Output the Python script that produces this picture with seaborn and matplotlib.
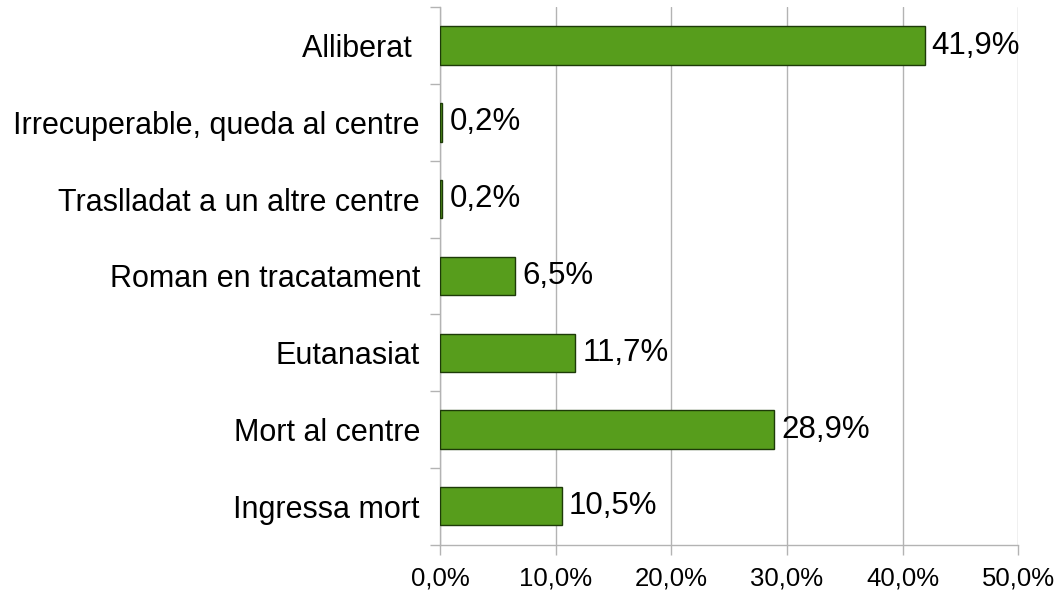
import matplotlib
matplotlib.use("Agg")
import matplotlib.pyplot as plt
import seaborn as sns
import pandas as pd

# Data (top to bottom)
categories = ["Alliberat ", "Irrecuperable, queda al centre", "Traslladat a un altre centre",
              "Roman en tracatament", "Eutanasiat", "Mort al centre", "Ingressa mort"]
values = [41.9, 0.2, 0.2, 6.5, 11.7, 28.9, 10.5]
x_ticks = [0, 10, 20, 30, 40, 50]

df = pd.DataFrame({"cat": categories, "val": values})

sns.set_style("white")
plt.rcParams["font.family"] = ["Liberation Sans", "DejaVu Sans"]
plt.rcParams["text.color"] = "black"
plt.rcParams["xtick.color"] = "#b3b3b3"
plt.rcParams["ytick.color"] = "#b3b3b3"
plt.rcParams["xtick.labelcolor"] = "black"
plt.rcParams["ytick.labelcolor"] = "black"

fig, ax = plt.subplots(figsize=(10.63, 5.94), dpi=100)
fig.subplots_adjust(left=0.414, right=0.958, top=0.988, bottom=0.083)

sns.barplot(data=df, x="val", y="cat", orient="h", color="#579d1c", saturation=1,
            width=0.5, edgecolor="#1d3a08", linewidth=1.0, ax=ax, zorder=3)

ax.set_xlim(0, 50)
ax.set_ylim(len(categories) - 0.5, -0.5)
ax.set_xticks(x_ticks)
ax.set_xticklabels([f"{t:.1f}%".replace(".", ",") for t in x_ticks])
ax.set_xlabel("")
ax.set_ylabel("")

# grid and spines
ax.grid(axis="x", color="#b3b3b3", linewidth=1, zorder=0)
ax.grid(axis="y", visible=False)
for s in ["top", "right"]:
    ax.spines[s].set_visible(False)
for s in ["left", "bottom"]:
    ax.spines[s].set_color("#b3b3b3")
    ax.spines[s].set_linewidth(1)

# y ticks at the category boundaries
ax.set_yticks(range(len(categories)))
ax.set_yticklabels(categories)
ax.set_yticks([i - 0.5 for i in range(len(categories) + 1)], minor=True)
ax.tick_params(axis="y", which="major", left=False, length=0, pad=14.5, labelsize=22)
ax.tick_params(axis="y", which="minor", left=True, length=7, width=1, color="#b3b3b3")
ax.tick_params(axis="x", bottom=True, length=7, width=1, color="#b3b3b3", labelsize=18.5, pad=9)

for i, v in enumerate(values):
    ax.text(v + 0.6, i, f"{v:.1f}%".replace(".", ","), va="center", ha="left",
            fontsize=22.5, color="black", zorder=4)

fig.savefig("out.png", dpi=100)
